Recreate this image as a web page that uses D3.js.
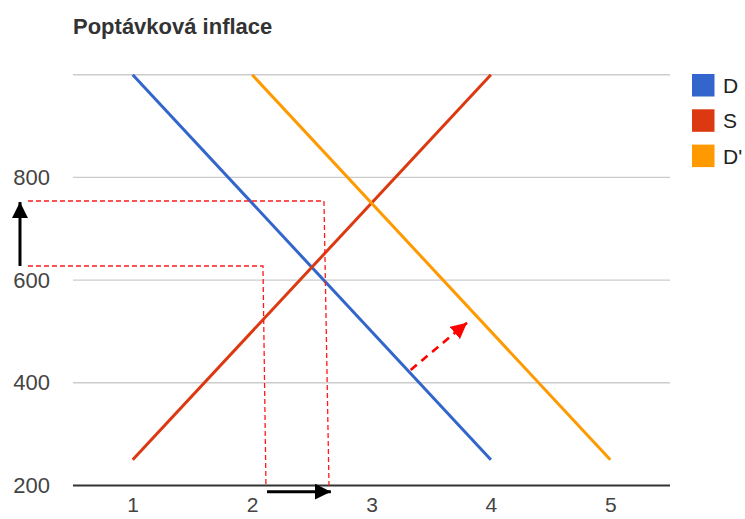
<!DOCTYPE html>
<html><head><meta charset="utf-8">
<script src="https://cdn.jsdelivr.net/npm/d3@7"></script>
<style>body{margin:0;background:#fff;}svg{display:block;font-family:Arial,"Liberation Sans",sans-serif;}</style>
</head><body>
<svg id="c" width="745" height="519"></svg>
<script>
const title = "Poptávková inflace";
const seriesNames = ["D", "S", "D'"];
const seriesColors = ["#3366cc", "#dc3912", "#ff9900"];
const seriesD = [[1, 1000], [4, 250]];
const seriesS = [[1, 250], [4, 1000]];
const seriesD2 = [[2, 1000], [5, 250]];
const yTicks = [200, 400, 600, 800];
const yGrid = [200, 400, 600, 800, 1000];
const xTicks = [1, 2, 3, 4, 5];
// annotation guides (data coordinates)
const guide1 = [[0.123, 627.5], [2.091, 627.5], [2.116, 200]];
const guide2 = [[0.123, 754], [2.602, 754], [2.644, 200]];
const arrowY = [[0.056, 627.5], [0.056, 752]];
const arrowX = [[2.125, 188], [2.66, 188]];
const arrowShift = [[3.328, 425], [3.80, 517]];

const svg = d3.select("#c");
const x = d3.scaleLinear().domain([0.5, 5.5]).range([73, 670]);
const y = d3.scaleLinear().domain([200, 1000]).range([485.5, 74.7]);

svg.append("text").attr("x", 73).attr("y", 34).attr("font-size", 22).attr("font-weight", "bold")
  .attr("fill", "#333").text(title);

const grid = svg.append("g");
grid.selectAll("line").data(yGrid.slice(1)).join("line")
  .attr("x1", x.range()[0]).attr("x2", x.range()[1])
  .attr("y1", d => y(d)).attr("y2", d => y(d))
  .attr("stroke", "#cccccc").attr("stroke-width", 1.4);

const yAxis = svg.append("g").attr("transform", `translate(${x.range()[0]},0)`)
  .call(d3.axisLeft(y).tickValues(yTicks).tickSize(0).tickPadding(23));
yAxis.select(".domain").remove();
yAxis.selectAll("text").attr("font-size", 22).attr("fill", "#444").attr("font-family", "Arial, 'Liberation Sans', sans-serif");

const xAxis = svg.append("g").attr("transform", `translate(0,${y(200)})`)
  .call(d3.axisBottom(x).tickValues(xTicks).tickSize(0).tickPadding(12).tickFormat(d3.format("d")));
xAxis.select(".domain").remove();
xAxis.selectAll("text").attr("font-size", 21).attr("fill", "#444").attr("font-family", "Arial, 'Liberation Sans', sans-serif");

const line = d3.line().x(d => x(d[0])).y(d => y(d[1]));
[seriesD, seriesS, seriesD2].forEach((s, i) => {
  svg.append("path").attr("d", line(s)).attr("fill", "none")
    .attr("stroke", seriesColors[i]).attr("stroke-width", 3);
});

// baseline
svg.append("line").attr("x1", x.range()[0]).attr("x2", x.range()[1])
  .attr("y1", y(200)).attr("y2", y(200)).attr("stroke", "#333").attr("stroke-width", 2);

// dashed guides
[guide1, guide2].forEach(g => {
  svg.append("path").attr("d", line(g)).attr("fill", "none")
    .attr("stroke", "#ff1a1a").attr("stroke-width", 1.3).attr("stroke-dasharray", "5,3");
});

const defs = svg.append("defs");
function marker(id, color) {
  defs.append("marker").attr("id", id).attr("viewBox", "0 0 10 10").attr("refX", 10).attr("refY", 5)
    .attr("markerUnits", "userSpaceOnUse").attr("markerWidth", 16).attr("markerHeight", 16).attr("orient", "auto")
    .append("path").attr("d", "M0,0L10,5L0,10Z").attr("fill", color);
}
marker("ab", "#000");
marker("ar", "#ff0000");

svg.append("path").attr("d", line(arrowY)).attr("stroke", "#000").attr("stroke-width", 3)
  .attr("fill", "none").attr("marker-end", "url(#ab)");
svg.append("path").attr("d", line(arrowX)).attr("stroke", "#000").attr("stroke-width", 3)
  .attr("fill", "none").attr("marker-end", "url(#ab)");
svg.append("path").attr("d", line(arrowShift)).attr("stroke", "#ff0000").attr("stroke-width", 2.6)
  .attr("stroke-dasharray", "8,6").attr("fill", "none").attr("marker-end", "url(#ar)");

// legend
const lg = svg.append("g").attr("transform", "translate(692,74)");
seriesNames.forEach((n, i) => {
  const g = lg.append("g").attr("transform", `translate(0,${i * 35.3})`);
  g.append("rect").attr("width", 22.5).attr("height", 22.5).attr("fill", seriesColors[i]);
  g.append("text").attr("x", 31).attr("y", 19).attr("font-size", 21).attr("fill", "#222").text(n);
});
</script>
</body></html>
